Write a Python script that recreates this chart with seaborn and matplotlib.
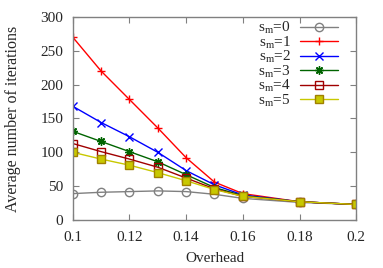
import pandas as pd
import numpy as np
import matplotlib
matplotlib.use('Agg')
import matplotlib.pyplot as plt
import seaborn as sns

overhead = [0.10, 0.11, 0.12, 0.13, 0.14, 0.15, 0.16, 0.18, 0.20]
sm0 = [39, 41, 42, 43, 42, 38, 32, 26, 23]
sm1 = [270, 220, 178, 136, 92, 56, 39, 27, 23]
sm2 = [168, 144, 123, 100, 73, 52, 37, 27, 23]
sm3 = [131, 116, 101, 86, 67, 48, 36, 27, 23]
sm4 = [113, 101, 90, 78, 62, 46, 35, 27, 23]
sm5 = [100, 90, 81, 70, 58, 45, 35, 27, 23]

series = {'0': sm0, '1': sm1, '2': sm2, '3': sm3, '4': sm4, '5': sm5}
colors = ['#808080', '#ff0000', '#0000ff', '#006400', '#a00000', '#c8c800']
markers = ['o', '+', 'x', (8, 2, 0), 's', 's']
filled = [False, False, False, True, False, True]

sns.set_style('ticks')
plt.rcParams['font.family'] = ['Liberation Serif', 'DejaVu Serif']
plt.rcParams['mathtext.fontset'] = 'custom'
plt.rcParams['mathtext.rm'] = 'Liberation Serif'
plt.rcParams['mathtext.it'] = 'Liberation Serif'

fig = plt.figure(figsize=(3.83, 2.68), dpi=100)
ax = fig.add_axes([0.19, 0.179, 0.74, 0.758])

for i, (k, vals) in enumerate(series.items()):
    df = pd.DataFrame({'x': overhead, 'y': vals})
    kw = dict(marker=markers[i], markersize=6, markeredgewidth=1.0,
              color=colors[i], linewidth=1.0)
    if filled[i]:
        kw['markerfacecolor'] = colors[i]
    else:
        kw['markerfacecolor'] = 'none'
    kw['markeredgecolor'] = colors[i] if i != 5 else '#a08000'
    sns.lineplot(data=df, x='x', y='y', ax=ax, label=r'$\mathrm{s_m}$=' + k, **kw)

ax.set_xlim(0.1, 0.2)
ax.set_ylim(0, 300)
ax.set_xticks([0.1, 0.12, 0.14, 0.16, 0.18, 0.2])
ax.set_xticklabels(['0.1', '0.12', '0.14', '0.16', '0.18', '0.2'])
ax.set_yticks(np.arange(0, 301, 50))
ax.tick_params(direction='in', top=True, right=True, length=4, width=0.8,
               color='#808080', labelsize=11)
ax.tick_params(axis='x', pad=8)
ax.tick_params(axis='y', pad=7)
for s in ax.spines.values():
    s.set_color('#808080')
    s.set_linewidth(1.0)
ax.set_xlabel('Overhead', fontsize=11, labelpad=6)
ax.set_ylabel('Average number of iterations', fontsize=11.5, labelpad=14)

ax.legend(loc='upper right', frameon=False, markerfirst=False, fontsize=11,
          handlelength=2.5, labelspacing=-0.1, borderaxespad=0, borderpad=0,
          handletextpad=0.6, bbox_to_anchor=(0.936, 0.985))

fig.savefig('out.png', dpi=100)
